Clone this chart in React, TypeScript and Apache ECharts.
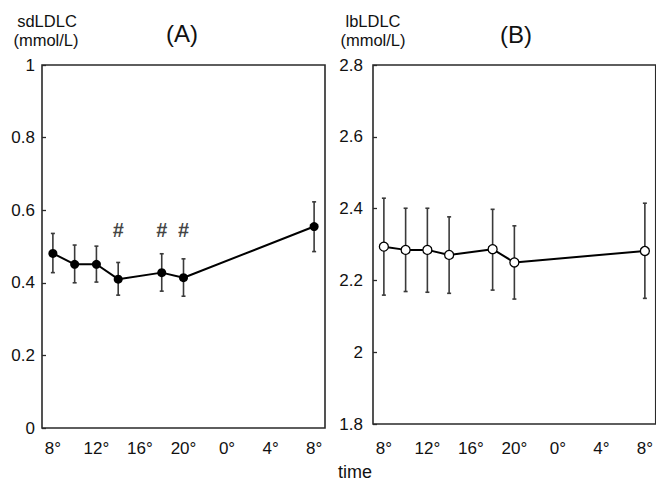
import React, { useEffect, useRef } from "react";
import * as echarts from "echarts";

// time in hours (32 = 8 o'clock next day)
const times = [8, 10, 12, 14, 18, 20, 32];
const sdMean = [0.481, 0.451, 0.451, 0.41, 0.428, 0.414, 0.555];
const sdUpper = [0.536, 0.504, 0.501, 0.456, 0.48, 0.466, 0.623];
const sdLower = [0.428, 0.4, 0.402, 0.366, 0.377, 0.363, 0.486];
const lbMean = [2.294, 2.285, 2.285, 2.271, 2.287, 2.25, 2.282];
const lbUpper = [2.429, 2.401, 2.401, 2.377, 2.398, 2.352, 2.415];
const lbLower = [2.159, 2.169, 2.167, 2.164, 2.173, 2.148, 2.15];
const hashTimes = [14, 18, 20];
const hashValue = 0.545;
const xTickValues = [8, 12, 16, 20, 24, 28, 32];

const FONT = "'Liberation Sans', Arial, Helvetica, sans-serif";
const AXIS_COLOR = "#2a2a2a";
const TEXT_COLOR = "#111";

export default function App() {
  const ref = useRef<HTMLDivElement>(null);
  useEffect(() => {
    if (!ref.current) return;
    const chart = echarts.init(ref.current, null, { renderer: "svg" });

    const errData = (up: number[], lo: number[]) =>
      times.map((t, i) => [t, lo[i], up[i]]);

    const errRender = (params: any, api: any) => {
      const x = api.value(0);
      const lo = api.coord([x, api.value(1)]);
      const hi = api.coord([x, api.value(2)]);
      const cap = 2;
      const style = { stroke: "#3a3a3a", lineWidth: 1.6 };
      return {
        type: "group",
        children: [
          { type: "line", shape: { x1: lo[0], y1: lo[1], x2: hi[0], y2: hi[1] }, style },
          { type: "line", shape: { x1: hi[0] - cap, y1: hi[1], x2: hi[0] + cap, y2: hi[1] }, style },
          { type: "line", shape: { x1: lo[0] - cap, y1: lo[1], x2: lo[0] + cap, y2: lo[1] }, style },
        ],
      };
    };

    const xAxisBase = (gridIndex: number, margin: number) => ({
      type: "value",
      gridIndex,
      min: 7,
      max: 33,
      splitLine: { show: false },
      axisLine: { show: false },
      axisTick: { show: false },
      axisLabel: {
        customValues: xTickValues,
        formatter: (v: number) => `${v % 24}°`,
        color: TEXT_COLOR,
        fontFamily: FONT,
        fontSize: 17,
        margin,
      },
    });

    const yAxisBase = (gridIndex: number, min: number, max: number, margin: number) => ({
      type: "value",
      gridIndex,
      min,
      max,
      interval: 0.2,
      splitLine: { show: false },
      axisLine: { show: false },
      axisTick: { show: true, inside: true, length: 4, lineStyle: { color: AXIS_COLOR, width: 1.3 } },
      axisLabel: {
        color: TEXT_COLOR,
        fontFamily: FONT,
        fontSize: 17,
        margin,
        formatter: (v: number) => String(Math.round(v * 10) / 10),
      },
    });

    const txt = (text: string, x: number, y: number, size: number, align = "left") => ({
      type: "text",
      x,
      y,
      style: {
        text,
        fontFamily: FONT,
        fontSize: size,
        fill: TEXT_COLOR,
        align,
        verticalAlign: "middle",
      },
    });

    chart.setOption({
      animation: false,
      backgroundColor: "#fff",
      grid: [
        { left: 42, top: 65, width: 283, height: 363, show: true, borderColor: AXIS_COLOR, borderWidth: 1.6, backgroundColor: "transparent" },
        { left: 373, top: 65, width: 288, height: 359, show: true, borderColor: AXIS_COLOR, borderWidth: 1.6, backgroundColor: "transparent" },
      ],
      xAxis: [xAxisBase(0, 12), xAxisBase(1, 16)],
      yAxis: [yAxisBase(0, 0, 1, 7), yAxisBase(1, 1.8, 2.8, 10)],
      graphic: [
        txt("sdLDLC", 47, 21, 16.5, "center"),
        txt("(mmol/L)", 46, 40, 16.5, "center"),
        txt("(A)", 166, 33, 24),
        txt("lbLDLC", 373, 21, 16.5, "center"),
        txt("(mmol/L)", 373, 40, 16.5, "center"),
        txt("(B)", 500, 34, 24),
        txt("time", 338, 472, 18),
      ],
      series: [
        {
          type: "custom",
          xAxisIndex: 0,
          yAxisIndex: 0,
          renderItem: errRender,
          data: errData(sdUpper, sdLower),
          z: 1,
        },
        {
          type: "line",
          xAxisIndex: 0,
          yAxisIndex: 0,
          data: times.map((t, i) => [t, sdMean[i]]),
          symbol: "circle",
          symbolSize: 9,
          itemStyle: { color: "#000" },
          lineStyle: { color: "#000", width: 2 },
          z: 3,
        },
        {
          type: "scatter",
          xAxisIndex: 0,
          yAxisIndex: 0,
          data: hashTimes.map((t) => [t, hashValue]),
          symbolSize: 1,
          itemStyle: { color: "transparent" },
          label: {
            show: true,
            position: "inside",
            formatter: "#",
            fontFamily: FONT,
            fontSize: 20,
            fontWeight: "bold",
            color: "#111",
          },
          z: 4,
        },
        {
          type: "custom",
          xAxisIndex: 1,
          yAxisIndex: 1,
          renderItem: errRender,
          data: errData(lbUpper, lbLower),
          z: 1,
        },
        {
          type: "line",
          xAxisIndex: 1,
          yAxisIndex: 1,
          data: times.map((t, i) => [t, lbMean[i]]),
          symbol: "circle",
          symbolSize: 9,
          itemStyle: { color: "#fff", borderColor: "#000", borderWidth: 1.3 },
          lineStyle: { color: "#000", width: 2 },
          z: 3,
        },
      ],
    });
    return () => chart.dispose();
  }, []);

  return (
    <div
      ref={ref}
      style={{ position: "fixed", left: 0, top: 0, width: 656, height: 483, background: "#fff" }}
    />
  );
}
